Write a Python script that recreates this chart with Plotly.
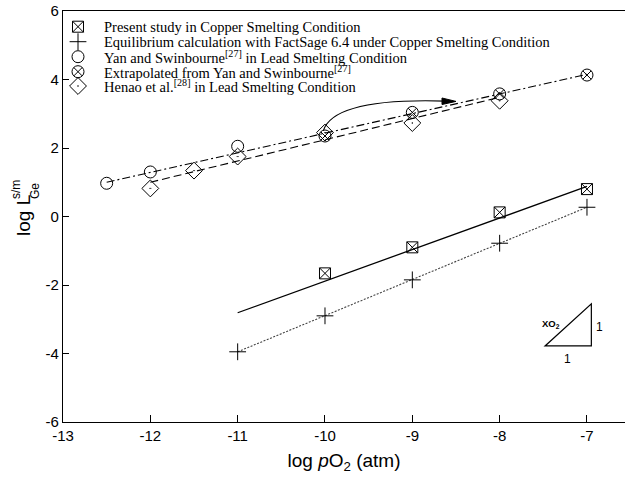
import plotly.graph_objects as go

# ---- data ----
present_x = [-10, -9, -8, -7]
present_y = [-1.66, -0.90, 0.12, 0.80]
present_fit_x = [-11, -7]
present_fit_y = [-2.81, 0.88]

factsage_x = [-11, -10, -9, -8, -7]
factsage_y = [-3.95, -2.90, -1.85, -0.78, 0.27]

yan_x = [-12.5, -12, -11]
yan_y = [0.97, 1.30, 2.05]

extrap_x = [-10, -9, -8, -7]
extrap_y = [2.35, 3.04, 3.58, 4.13]
yan_fit_x = [-12.5, -7]
yan_fit_y = [1.00, 4.15]

henao_x = [-12, -11.5, -11, -10, -9, -8]
henao_y = [0.82, 1.34, 1.75, 2.45, 2.73, 3.38]
henao_fit_x = [-12, -8]
henao_fit_y = [1.00, 3.48]

x_ticks = [-13, -12, -11, -10, -9, -8, -7]
y_ticks = [-6, -4, -2, 0, 2, 4, 6]

legend_labels = [
    "Present study in Copper Smelting Condition",
    "Equilibrium calculation with FactSage 6.4 under Copper Smelting Condition",
    "Yan and Swinbourne<sup>[27]</sup> in Lead Smelting Condition",
    "Extrapolated from Yan and Swinbourne<sup>[27]</sup>",
    "Henao et al.<sup>[28]</sup> in Lead Smelting Condition",
]
legend_symbols = ["square-x-open", "cross-thin-open", "circle-open",
                  "circle-x-open", "diamond-open-dot"]
legend_sizes = [11, 12, 12, 12, 13]

BLACK = "#000000"
L, R, T, B = 63, 0, 11, 61
W, H = 625, 483
PW, PH = W - L - R, H - T - B

fig = go.Figure()

# fit / connecting lines
fig.add_trace(go.Scatter(x=present_fit_x, y=present_fit_y, mode="lines",
                         line=dict(color=BLACK, width=1.3), showlegend=False))
fig.add_trace(go.Scatter(x=factsage_x, y=factsage_y, mode="lines",
                         line=dict(color="#444444", width=1.1, dash="2px,1.5px"), showlegend=False))
fig.add_trace(go.Scatter(x=yan_fit_x, y=yan_fit_y, mode="lines",
                         line=dict(color=BLACK, width=1.1, dash="8px,3px,2px,3px"), showlegend=False))
fig.add_trace(go.Scatter(x=henao_fit_x, y=henao_fit_y, mode="lines",
                         line=dict(color=BLACK, width=1.1, dash="8px,4px"), showlegend=False))

# markers
mk = dict(color=BLACK, line=dict(color=BLACK, width=1))
fig.add_trace(go.Scatter(x=present_x, y=present_y, mode="markers", showlegend=False,
                         marker=dict(symbol="square-x-open", size=11, **mk)))
fig.add_trace(go.Scatter(x=factsage_x, y=factsage_y, mode="markers", showlegend=False,
                         marker=dict(symbol="cross-thin-open", size=12, **mk)))
fig.add_trace(go.Scatter(x=yan_x, y=yan_y, mode="markers", showlegend=False,
                         marker=dict(symbol="circle-open", size=12, **mk)))
fig.add_trace(go.Scatter(x=extrap_x, y=extrap_y, mode="markers", showlegend=False,
                         marker=dict(symbol="circle-x-open", size=12, **mk)))
fig.add_trace(go.Scatter(x=henao_x, y=henao_y, mode="markers", showlegend=False,
                         marker=dict(symbol="diamond-open-dot", size=13, **mk)))

# legend (drawn manually on an overlay axis in paper-like units)
leg_y_px = [26.7, 41.7, 56.7, 71.7, 86.0]
leg_sym_x = (78 - L) / PW
leg_txt_x = (102 - L) / PW
leg_y = [(H - B - py) / PH for py in leg_y_px]
for sym, sz, ly in zip(legend_symbols, legend_sizes, leg_y):
    fig.add_trace(go.Scatter(x=[leg_sym_x], y=[ly], mode="markers", showlegend=False,
                             xaxis="x2", yaxis="y2",
                             marker=dict(symbol=sym, size=sz, **mk)))
annotations = []
for lab, ly in zip(legend_labels, leg_y):
    annotations.append(dict(x=leg_txt_x, y=ly, xref="paper", yref="paper", text=lab,
                            showarrow=False, xanchor="left", yanchor="middle",
                            font=dict(family="Liberation Serif", size=14.5, color=BLACK)))

# curved arrow
shapes = [
    dict(type="path", xref="x", yref="y",
         path="M -10.02,2.50 Q -9.90,3.47 -8.62,3.37",
         line=dict(color=BLACK, width=1.1)),
    dict(type="path", xref="x", yref="y",
         path="M -8.50,3.36 L -8.66,3.46 L -8.66,3.27 Z",
         fillcolor=BLACK, line=dict(color=BLACK, width=1)),
    # slope triangle
    dict(type="path", xref="x", yref="y",
         path="M -7.48,-3.78 L -6.95,-3.78 L -6.95,-2.55 Z",
         line=dict(color=BLACK, width=1.2)),
]
annotations += [
    dict(x=-7.41, y=-3.14, xref="x", yref="y", text="<b>XO<sub>2</sub></b>", showarrow=False,
         font=dict(family="Liberation Sans", size=9.5, color=BLACK)),
    dict(x=-6.86, y=-3.22, xref="x", yref="y", text="1", showarrow=False,
         font=dict(family="Liberation Sans", size=12, color=BLACK)),
    dict(x=-7.22, y=-4.16, xref="x", yref="y", text="1", showarrow=False,
         font=dict(family="Liberation Sans", size=12, color=BLACK)),
    # y axis title pieces
    dict(x=(24 - L) / PW, y=(H - B - 216) / PH, xref="paper", yref="paper", text="log L",
         textangle=-90, showarrow=False, xanchor="center", yanchor="middle",
         font=dict(family="Liberation Sans", size=19, color=BLACK)),
    dict(x=(16 - L) / PW, y=(H - B - 190) / PH, xref="paper", yref="paper", text="s/m",
         textangle=-90, showarrow=False, xanchor="center", yanchor="middle",
         font=dict(family="Liberation Sans", size=12, color=BLACK)),
    dict(x=(35 - L) / PW, y=(H - B - 191) / PH, xref="paper", yref="paper", text="Ge",
         textangle=-90, showarrow=False, xanchor="center", yanchor="middle",
         font=dict(family="Liberation Sans", size=12, color=BLACK)),
]

axis_font = dict(family="Liberation Sans", size=15, color=BLACK)
fig.update_layout(
    width=W, height=H,
    margin=dict(l=L, r=R, t=T, b=B),
    paper_bgcolor="white", plot_bgcolor="white",
    showlegend=False,
    xaxis=dict(range=[-13, -13 + PW / 87.33], tickvals=x_ticks, ticktext=[str(v) for v in x_ticks],
               ticks="inside", ticklen=7, tickwidth=1.2, tickcolor=BLACK,
               showline=True, linecolor=BLACK, linewidth=1.4, mirror=True,
               showgrid=False, zeroline=False, tickfont=axis_font,
               title=dict(text="log <i>p</i>O<sub>2</sub> (atm)", standoff=10,
                          font=dict(family="Liberation Sans", size=19, color=BLACK))),
    yaxis=dict(range=[-6, 6], tickvals=y_ticks, ticktext=[str(v) for v in y_ticks],
               ticks="inside", ticklen=6, tickwidth=1.2, tickcolor=BLACK,
               showline=True, linecolor=BLACK, linewidth=1.4, mirror=False,
               showgrid=False, zeroline=False, tickfont=axis_font),
    xaxis2=dict(range=[0, 1], overlaying="x", visible=False),
    yaxis2=dict(range=[0, 1], overlaying="y", visible=False),
    shapes=shapes,
    annotations=annotations,
)

fig.write_html("out.html")
